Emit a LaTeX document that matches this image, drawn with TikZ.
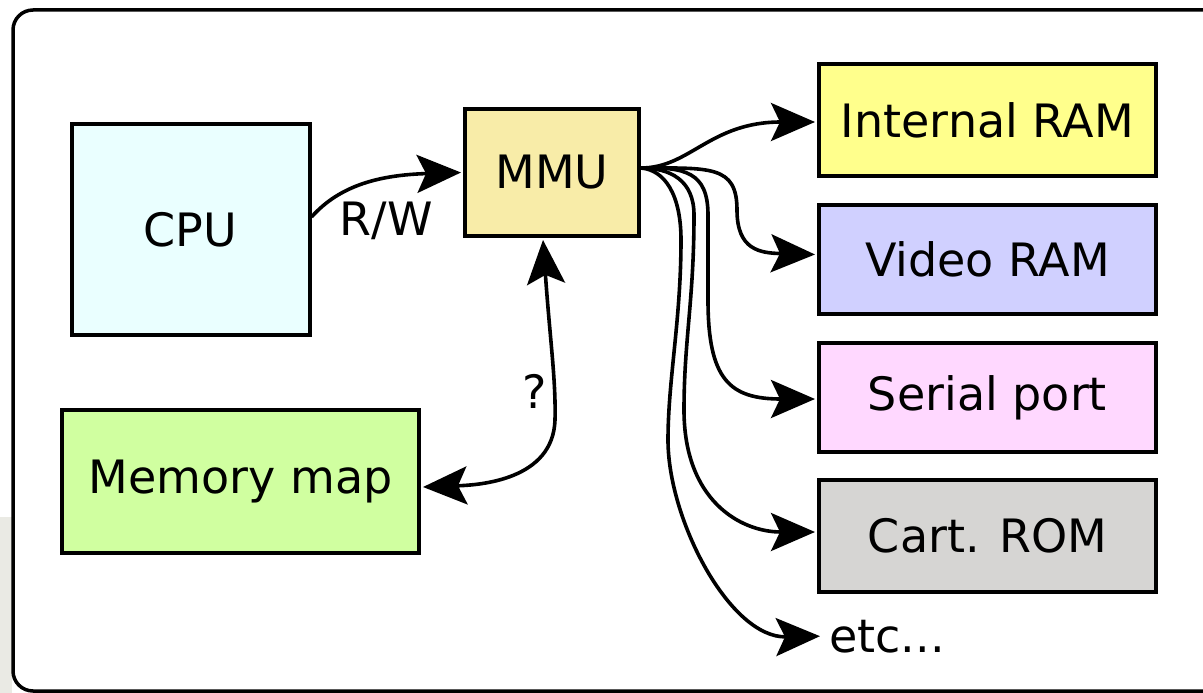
\documentclass[tikz,border=0pt]{standalone}
\usepackage{fontspec}
\setmainfont{DejaVu Sans}
\usetikzlibrary{arrows.meta}

\definecolor{cpufill}{HTML}{EAFFFF}
\definecolor{mmufill}{HTML}{F8ECA8}
\definecolor{mapfill}{HTML}{D0FFA0}
\definecolor{iramfill}{HTML}{FFFF8C}
\definecolor{vramfill}{HTML}{D0D0FF}
\definecolor{serfill}{HTML}{FFD8FF}
\definecolor{romfill}{HTML}{D6D5D3}
\definecolor{edgegray}{HTML}{EAEAE4}

\begin{document}
\begin{tikzpicture}[x=1pt, y=-1pt,
  bigfont/.style={font=\fontsize{46}{55}\selectfont},
  block/.style={draw=black, line width=4pt, inner sep=0pt, bigfont},
  lbl/.style={inner sep=0pt, bigfont},
  link/.style={line width=3.6pt, -{Stealth[length=44pt, width=38pt, inset=9pt]}},
  duallink/.style={line width=3.6pt,
    {Stealth[length=44pt, width=38pt, inset=9pt]}-{Stealth[length=44pt, width=38pt, inset=9pt]}}
]
\useasboundingbox (0,0) rectangle (1203,693);

% page background strip at the left edge
\fill[edgegray] (0,517) rectangle (12,693);

% outer frame, running past the right edge
\begin{scope}
  \clip (0,0) rectangle (1203,693);
  \draw[line width=3.5pt, rounded corners=20pt, fill=white] (13,10) rectangle (1240,691);
\end{scope}

% blocks
\node[block, fill=cpufill, minimum width=238pt, minimum height=211pt] (cpu) at (190.5,229.5) {CPU};
\node[block, fill=mmufill, minimum width=174pt, minimum height=127pt] (mmu) at (552,172.5) {MMU};
\node[block, fill=mapfill, minimum width=357pt, minimum height=143pt] (mmap) at (240.5,481.5) {Memory map};
\node[block, fill=iramfill, minimum width=337pt, minimum height=112pt] (iram) at (987.5,120) {Internal RAM};
\node[block, fill=vramfill, minimum width=337pt, minimum height=109pt] (vram) at (987.5,259.5) {Video RAM};
\node[block, fill=serfill, minimum width=337pt, minimum height=109pt] (serial) at (987.5,397.5) {Serial port};
\node[block, fill=romfill, minimum width=337pt, minimum height=112pt] (rom) at (987.5,536) {Cart. ROM};
\node[lbl, anchor=base west] (etc) at (829,652) {etc...};

% CPU to MMU
\draw[link] ([yshift=12.5pt]cpu.east) .. controls (340,185) and (380,175) .. ([xshift=-2pt]mmu.west);
\node[lbl, anchor=base] (rw) at (386,235) {R/W};

% MMU and memory map
\draw[duallink] ([xshift=-9pt,yshift=-2pt]mmu.south) .. controls (550,340) and (556,380) .. (555,420)
  .. controls (553,480) and (480,485) .. ([xshift=2pt,yshift=-5.5pt]mmap.east);
\node[lbl, anchor=base] (q) at (535,408) {?};

% MMU fan-out
\coordinate (fan) at ([yshift=4.5pt]mmu.east);
\draw[link] (fan) .. controls (690,168) and (710,122) .. ([xshift=-2pt,yshift=-2pt]iram.west);
\draw[link] (fan) .. controls (710,168) and (737,165) .. (737,210)
  .. controls (737,250) and (760,253) .. ([xshift=-2pt,yshift=5pt]vram.west);
\draw[link] (fan) .. controls (685,167) and (708,172) .. (708,215) -- (708,300)
  .. controls (708,380) and (730,399) .. ([xshift=-2pt,yshift=-1.5pt]serial.west);
\draw[link] (fan) .. controls (670,168) and (694,180) .. (694,215)
  .. controls (694,300) and (684,340) .. (684,410)
  .. controls (684,500) and (740,532) .. ([xshift=-2pt,yshift=4pt]rom.west);
\draw[link] (fan) .. controls (665,170) and (681,195) .. (681,240)
  .. controls (681,320) and (668,380) .. (668,440)
  .. controls (668,520) and (730,638) .. ([xshift=-9pt]etc.west);
\end{tikzpicture}
\end{document}
